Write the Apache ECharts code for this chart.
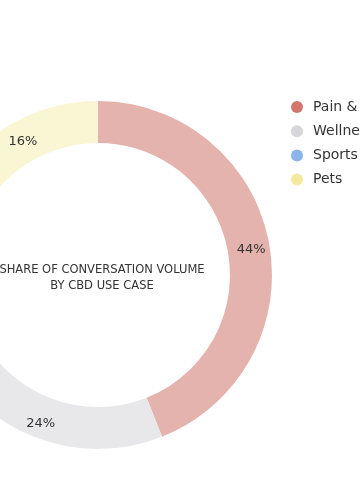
<!DOCTYPE html>
<html>
<head>
<meta charset="utf-8">
<script src="https://cdn.jsdelivr.net/npm/echarts@6/dist/echarts.min.js"></script>
<style>
html,body{margin:0;padding:0;background:#fff;}
#chart{width:360px;height:500px;}
</style>
</head>
<body>
<div id="chart"></div>
<script>
const categories = ["Pain & Anxiety", "Wellness", "Sports Recovery", "Pets"];
const values = [44, 24, 16, 16];
const legendColors = ["#d3776e", "#d6d6db", "#8cb4ea", "#f5e9a0"];
const sliceColors = ["#e5b3ae", "#e8e8ea", "#c3d8f4", "#faf5d3"];
const centerTitle = "SHARE OF CONVERSATION VOLUME\nBY CBD USE CASE";

const chart = echarts.init(document.getElementById('chart'), null, {renderer: 'canvas'});
chart.setOption({
  animation: false,
  backgroundColor: '#ffffff',
  title: {
    text: centerTitle,
    left: 97, top: 273,
    textAlign: 'center', textVerticalAlign: 'middle',
    textStyle: {fontFamily: 'DejaVu Sans', fontSize: 11.5, fontWeight: 'normal', color: '#333', lineHeight: 16}
  },
  legend: {
    orient: 'vertical',
    left: 291, top: 99,
    itemWidth: 12, itemHeight: 12, itemGap: 8.2,
    icon: 'circle',
    padding: 0,
    textStyle: {fontFamily: 'DejaVu Sans', fontSize: 14, color: '#333', lineHeight: 16, padding: [0,0,0,5]},
    data: categories.map((c, i) => ({name: c, itemStyle: {color: legendColors[i], opacity: 1}}))
  },
  series: [{
    type: 'pie',
    center: [98, 275],
    radius: [132, 174],
    startAngle: 90,
    clockwise: true,
    avoidLabelOverlap: false,
    label: {
      show: true, position: 'inside',
      formatter: ' \n{c}%',
      fontFamily: 'DejaVu Sans', fontSize: 13, color: '#333',
      lineHeight: 7
    },
    labelLine: {show: false},
    emphasis: {disabled: true},
    data: categories.map((c, i) => ({name: c, value: values[i], itemStyle: {color: sliceColors[i]}}))
  }]
});
</script>
</body>
</html>
